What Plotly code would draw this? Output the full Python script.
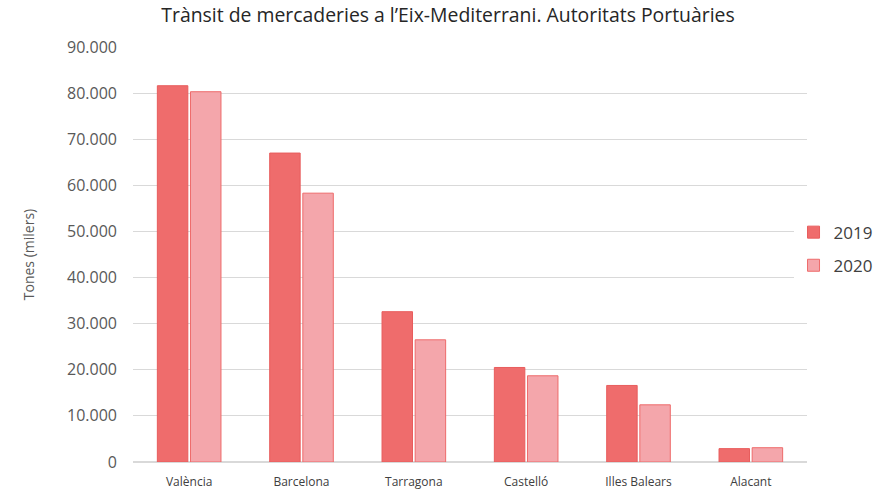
import plotly.graph_objects as go

categories = ["València", "Barcelona", "Tarragona", "Castelló", "Illes Balears", "Alacant"]
values_2019 = [81600, 67000, 32600, 20500, 16600, 2900]
values_2020 = [80300, 58300, 26500, 18700, 12400, 3100]
y_ticks = [0, 10000, 20000, 30000, 40000, 50000, 60000, 70000, 80000, 90000]

fig = go.Figure()
fig.add_trace(go.Bar(
    x=categories, y=values_2019, name="2019", legendgroup="a",
    marker=dict(color="#EF6C6C", line=dict(color="#E85D5D", width=1)),
))
fig.add_trace(go.Bar(
    x=categories, y=values_2020, name="2020", legendgroup="b",
    marker=dict(color="#F4A6AB", line=dict(color="#EE6B6B", width=1)),
))

font_family = "Open Sans, Noto Sans, sans-serif"
fig.update_layout(
    width=882, height=490,
    paper_bgcolor="white", plot_bgcolor="white",
    margin=dict(l=133, r=75, t=47, b=28, autoexpand=False),
    separators=",.",
    barmode="group", bargap=0.41, bargroupgap=0.08,
    title=dict(
        text="Trànsit de mercaderies a l’Eix-Mediterrani. Autoritats Portuàries",
        x=0.508, xanchor="center", y=0.968, yanchor="middle",
        font=dict(family=font_family, size=19.4, color="#262626"),
    ),
    font=dict(family=font_family, color="#595959"),
    legend=dict(
        x=0.98, xanchor="left", y=0.513, yanchor="middle",
        font=dict(size=17, color="#404040"),
        itemwidth=30, traceorder="grouped", tracegroupgap=8,
    ),
    showlegend=True,
)
fig.update_yaxes(
    range=[0, 90000], tickvals=y_ticks, tickformat=",d", automargin=False,
    showgrid=True, gridcolor="#D9D9D9", gridwidth=1,
    zeroline=True, zerolinecolor="#D9D9D9",
    showline=False, ticks="", ticklabelstandoff=15,
    tickfont=dict(size=16, color="#595959"),
    title=dict(text="Tones (milers)", standoff=29, font=dict(size=14, color="#595959")),
)
fig.update_xaxes(
    showgrid=False, showline=False, ticks="", automargin=False,
    tickfont=dict(size=12, color="#404040"), ticklabelstandoff=11,
)

fig.write_html("out.html", config={"displayModeBar": False},
               post_script="document.body.style.margin='0';")
